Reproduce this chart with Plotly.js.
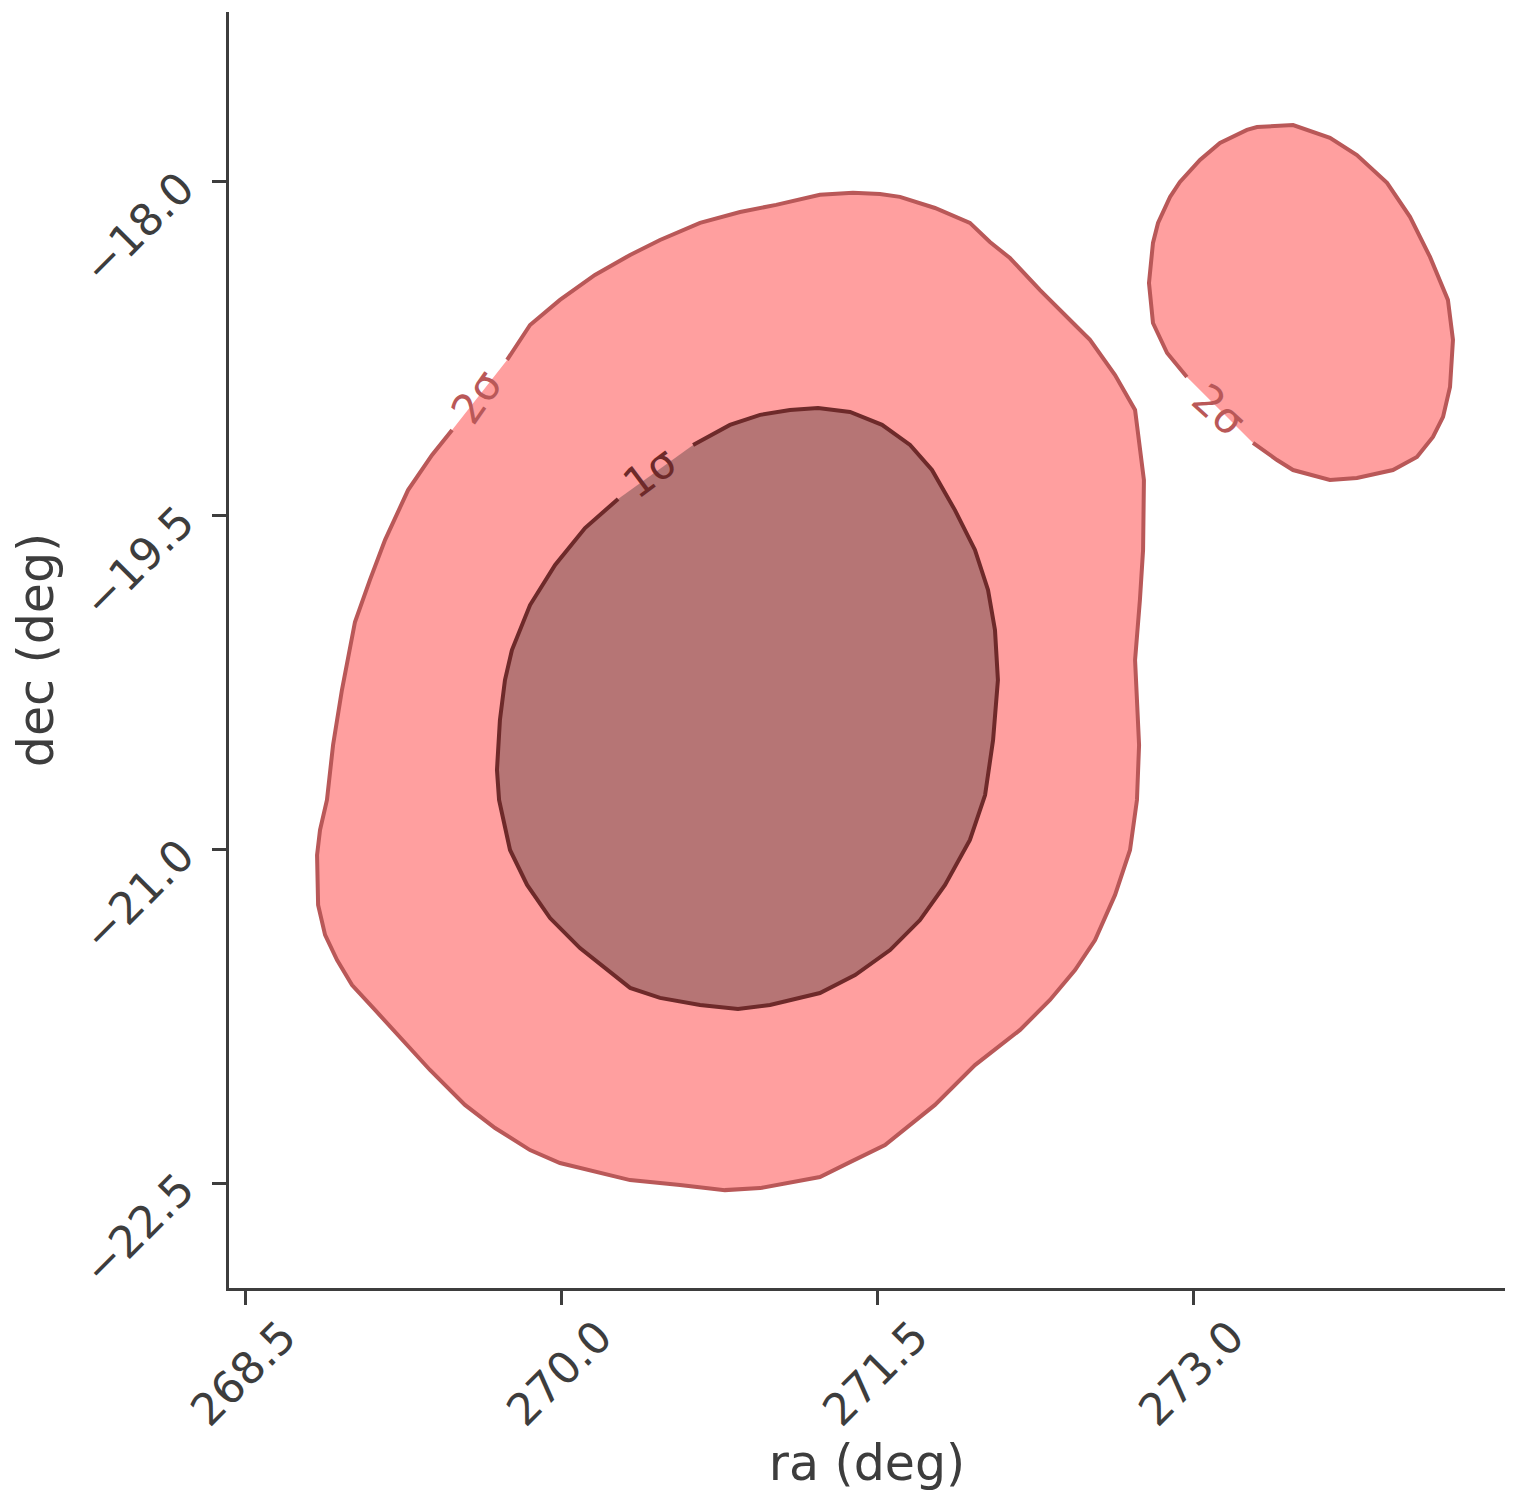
<!DOCTYPE html>
<html>
<head>
<meta charset="utf-8">
<script src="https://cdn.plot.ly/plotly-3.0.1.min.js"></script>
<style>html,body{margin:0;padding:0;background:#fff;}</style>
</head>
<body>
<div id="chart" style="width:1518px;height:1512px;"></div>
<script>
// 2-sigma main region boundary (ra, dec), starting just after its label gap
const outerRa = [269.744,269.853,269.995,270.161,270.328,270.470,270.660,270.850,271.021,271.229,271.386,271.514,271.609,271.775,271.941,272.036,272.131,272.274,272.440,272.511,272.630,272.725,272.767,272.763,272.748,272.725,272.734,272.744,272.734,272.701,272.630,272.535,272.440,272.321,272.179,271.965,271.775,271.538,271.372,271.229,270.945,270.778,270.565,270.328,269.995,269.853,269.687,269.544,269.378,269.236,269.117,269.008,268.937,268.880,268.847,268.842,268.856,268.889,268.918,268.960,268.998,269.022,269.093,269.165,269.274,269.388,269.483];
const outerDec = [-18.800,-18.643,-18.530,-18.418,-18.328,-18.261,-18.184,-18.135,-18.103,-18.058,-18.049,-18.054,-18.067,-18.117,-18.184,-18.270,-18.342,-18.486,-18.643,-18.710,-18.868,-19.025,-19.340,-19.654,-19.879,-20.149,-20.329,-20.531,-20.778,-21.003,-21.205,-21.408,-21.543,-21.677,-21.812,-21.970,-22.149,-22.329,-22.406,-22.473,-22.523,-22.532,-22.509,-22.487,-22.410,-22.352,-22.253,-22.149,-21.992,-21.848,-21.722,-21.610,-21.498,-21.385,-21.250,-21.026,-20.913,-20.778,-20.531,-20.284,-20.104,-19.978,-19.789,-19.609,-19.385,-19.227,-19.115];

// 2-sigma secondary island (ra, dec)
const islandRa = [272.971,272.877,272.810,272.791,272.810,272.834,272.891,272.938,273.033,273.128,273.256,273.304,273.475,273.650,273.778,273.921,274.030,274.125,274.210,274.234,274.220,274.187,274.139,274.063,273.949,273.778,273.650,273.475,273.399,273.285];
const islandDec = [-18.877,-18.769,-18.634,-18.454,-18.274,-18.184,-18.067,-18.000,-17.901,-17.825,-17.766,-17.753,-17.744,-17.802,-17.879,-18.004,-18.157,-18.337,-18.530,-18.710,-18.922,-19.056,-19.146,-19.236,-19.295,-19.331,-19.340,-19.295,-19.250,-19.173];

// 1-sigma region boundary (ra, dec)
const innerRa = [270.627,270.802,270.945,271.087,271.220,271.372,271.524,271.657,271.761,271.870,271.965,272.027,272.060,272.074,272.051,272.013,271.941,271.823,271.704,271.562,271.396,271.229,270.992,270.840,270.660,270.470,270.328,270.090,269.948,269.839,269.758,269.706,269.696,269.710,269.734,269.767,269.853,269.972,270.114,270.271];
const innerDec = [-19.182,-19.092,-19.047,-19.025,-19.016,-19.034,-19.092,-19.182,-19.295,-19.475,-19.654,-19.834,-20.014,-20.239,-20.509,-20.756,-20.958,-21.160,-21.318,-21.453,-21.565,-21.646,-21.700,-21.718,-21.700,-21.668,-21.623,-21.444,-21.309,-21.160,-21.003,-20.778,-20.643,-20.419,-20.239,-20.104,-19.902,-19.722,-19.556,-19.425];

// contour labels
const labelText = ['2σ', '1σ', '2σ'];
const labelRa = [269.597, 270.422, 273.119];
const labelDec = [-18.967, -19.304, -19.025];
const labelAngle = [-55, -37, 42];

// ticks
const xTickVals = [268.5, 270.0, 271.5, 273.0];
const xTickText = ['268.5', '270.0', '271.5', '273.0'];
const yTickVals = [-18.0, -19.5, -21.0, -22.5];
const yTickText = ['\u221218.0', '\u221219.5', '\u221221.0', '\u221222.5'];

const C_OUT_FILL = '#ff9f9f', C_OUT_LINE = '#b95858';
const C_IN_FILL = '#b67575', C_IN_LINE = '#6e2a2a';
const AX = '#3d3d3d';
const FONT = 'DejaVu Sans, sans-serif';

function fillTrace(x, y, color) {
  return {x: x, y: y, type: 'scatter', mode: 'none', fill: 'toself', fillcolor: color, hoverinfo: 'skip', showlegend: false};
}
function lineTrace(x, y, color) {
  return {x: x, y: y, type: 'scatter', mode: 'lines', line: {color: color, width: 4, shape: 'linear'}, hoverinfo: 'skip', showlegend: false};
}

const data = [
  fillTrace(outerRa, outerDec, C_OUT_FILL),
  fillTrace(islandRa, islandDec, C_OUT_FILL),
  fillTrace(innerRa, innerDec, C_IN_FILL),
  lineTrace(outerRa, outerDec, C_OUT_LINE),
  lineTrace(islandRa, islandDec, C_OUT_LINE),
  lineTrace(innerRa, innerDec, C_IN_LINE)
];

const labelColors = [C_OUT_LINE, C_IN_LINE, C_OUT_LINE];
const annotations = labelText.map((t, i) => ({
  x: labelRa[i], y: labelDec[i], xref: 'x', yref: 'y', text: t, showarrow: false,
  textangle: labelAngle[i], font: {family: FONT, size: 42, color: labelColors[i]}
}));

const layout = {
  width: 1518, height: 1512,
  margin: {l: 229, r: 13, t: 12, b: 224},
  paper_bgcolor: '#ffffff', plot_bgcolor: '#ffffff',
  showlegend: false,
  font: {family: FONT, color: AX},
  xaxis: {
    range: [268.424, 274.481], tickmode: 'array', tickvals: xTickVals, ticktext: xTickText,
    tickangle: -45, ticks: 'outside', ticklen: 14, tickwidth: 3, tickcolor: AX,
    showline: true, linewidth: 3, linecolor: AX, showgrid: false, zeroline: false,
    tickfont: {family: FONT, size: 44, color: AX}, ticklabelshift: 38, ticklabelstandoff: -12,
    title: {text: 'ra (deg)', font: {family: FONT, size: 49, color: AX}, standoff: 0}
  },
  yaxis: {
    range: [-22.972, -17.236], tickmode: 'array', tickvals: yTickVals, ticktext: yTickText,
    tickangle: -45, ticks: 'outside', ticklen: 14, tickwidth: 3, tickcolor: AX,
    showline: true, linewidth: 3, linecolor: AX, showgrid: false, zeroline: false,
    tickfont: {family: FONT, size: 44, color: AX}, ticklabelstandoff: 22,
    title: {text: 'dec (deg)', font: {family: FONT, size: 49, color: AX}, standoff: 4}
  },
  annotations: annotations
};

Plotly.newPlot('chart', data, layout, {displayModeBar: false, staticPlot: true});
</script>
</body>
</html>
